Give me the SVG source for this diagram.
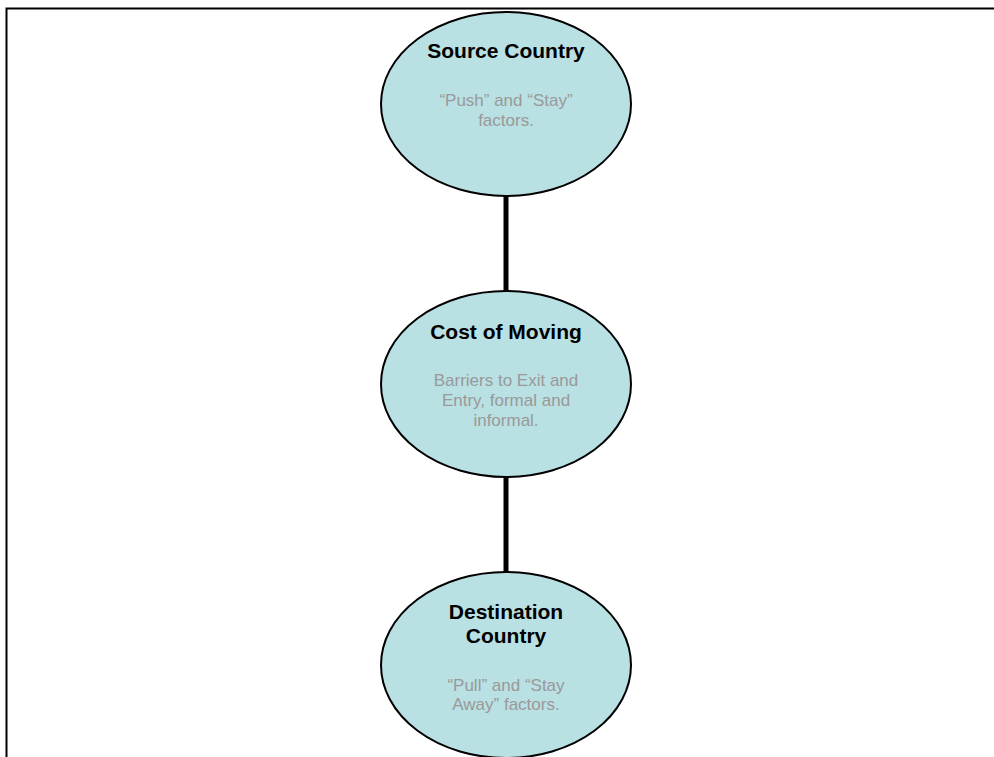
<svg xmlns="http://www.w3.org/2000/svg" width="994" height="757" viewBox="0 0 994 757">
<style>
.node{fill:#b9e0e3;stroke:#000;stroke-width:2}
.t{font-family:"Liberation Sans",Arial,sans-serif;font-weight:bold;font-size:21px;fill:#000;text-anchor:middle}
.b{font-family:"Liberation Sans",Arial,sans-serif;font-size:17px;fill:#999;text-anchor:middle}
.c{stroke:#000;stroke-width:5}
</style>
<rect width="994" height="757" fill="#fff"/>
<path d="M6.5 757 V8.5 H994" fill="none" stroke="#000" stroke-width="2"/>
<g id="connectors">
<line class="c" x1="506" y1="195" x2="506" y2="291"/>
<line class="c" x1="506" y1="476" x2="506" y2="573"/>
</g>
<g id="source">
<ellipse class="node" cx="506" cy="104" rx="125" ry="92"/>
<text class="t" x="506" y="58">Source Country</text>
<text class="b" x="506" y="106">“Push” and “Stay”</text>
<text class="b" x="506" y="126">factors.</text>
</g>
<g id="cost">
<ellipse class="node" cx="506" cy="384" rx="125" ry="93"/>
<text class="t" x="506" y="339">Cost of Moving</text>
<text class="b" x="506" y="386">Barriers to Exit and</text>
<text class="b" x="506" y="406">Entry, formal and</text>
<text class="b" x="506" y="426">informal.</text>
</g>
<g id="destination">
<ellipse class="node" cx="506" cy="665" rx="125" ry="93"/>
<text class="t" x="506" y="619">Destination</text>
<text class="t" x="506" y="643">Country</text>
<text class="b" x="506" y="691">“Pull” and “Stay</text>
<text class="b" x="506" y="710">Away” factors.</text>
</g>
</svg>
